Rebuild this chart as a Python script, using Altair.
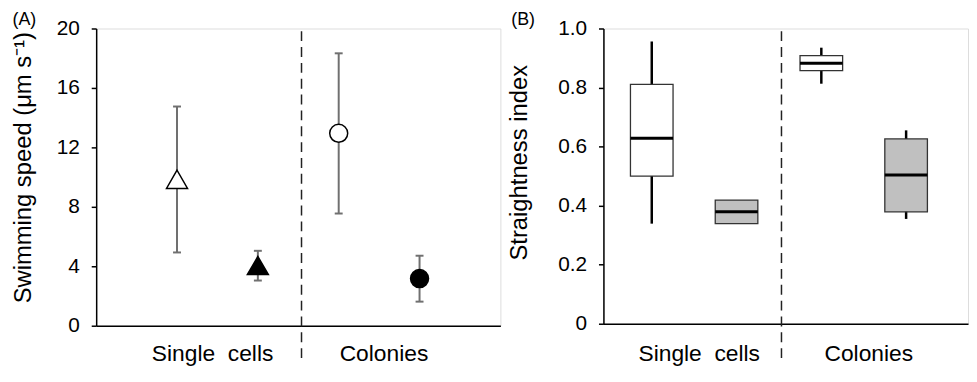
import altair as alt
import pandas as pd

FONT = "Liberation Sans"

# ---------------- Panel A: swimming speed (mean with range) ----------------
speed_pos = [1, 2, 3, 4]
speed_mean = [9.85, 4.05, 12.95, 3.17]
speed_low = [4.93, 3.04, 7.55, 1.62]
speed_high = [14.75, 5.04, 18.33, 4.71]
speed_shape = ["triangle-up", "triangle-up", "circle", "circle"]
speed_fill = ["white", "black", "white", "black"]

# ---------------- Panel B: straightness index (box plots) ----------------
box_pos = [1, 2, 3, 4]
whisk_lo = [0.339, 0.339, 0.813, 0.355]
q1 = [0.500, 0.339, 0.857, 0.379]
median = [0.628, 0.379, 0.882, 0.504]
q3 = [0.811, 0.419, 0.908, 0.626]
whisk_hi = [0.956, 0.419, 0.935, 0.655]
box_fill = ["white", "#c0c0c0", "white", "#c0c0c0"]

group_labels = ["Single\u00a0\u00a0cells", "Colonies"]
group_pos_a = [1.44, 3.56]
group_pos_b = [1.56, 3.56]
divider_a = [2.54]
divider_b = [2.53]
panel_labels = ["(A)", "(B)"]

y_ticks_a = [0, 4, 8, 12, 16, 20]
y_ticks_b = [0, 0.2, 0.4, 0.6, 0.8, 1.0]

dfA = pd.DataFrame({"pos": speed_pos, "mean": speed_mean, "low": speed_low,
                    "high": speed_high, "shape": speed_shape, "fill": speed_fill})
dfB = pd.DataFrame({"pos": box_pos, "lo": whisk_lo, "q1": q1, "med": median,
                    "q3": q3, "hi": whisk_hi, "fill": box_fill})

x_axis = alt.Axis(domain=True, ticks=False, labels=False, title=None, grid=False,
                  domainColor="black", domainWidth=1.5)

DASH_BOTTOM = 337


def y_axis(values, title, title_x, title_y, label_pad, expr):
    return alt.Axis(values=values, title=title, titleX=title_x, titleY=title_y,
                    titleAngle=270, titleAlign="center", titleBaseline="bottom",
                    titleFont=FONT, titleFontSize=24, titleFontWeight="normal",
                    titleColor="black", labelFont=FONT, labelFontSize=21,
                    labelColor="black", labelPadding=label_pad, labelExpr=expr,
                    tickSize=5, tickWidth=1.5, tickColor="black", domainColor="black",
                    domainWidth=1.5, grid=False)


# ---------------- Build panel A ----------------
xsA = alt.Scale(domain=[0, 5], nice=False, zero=False)
ysA = alt.Scale(domain=[0, 20], nice=False)
yaxA = y_axis(y_ticks_a, "Swimming speed (\u03bcm s\u207b\u00b9)", -61.5, 140, 12,
              "format(datum.value, 'd')")
XA = alt.X("pos:Q", scale=xsA, axis=x_axis)

baseA = alt.Chart(dfA)
errA = baseA.mark_rule(color="#707070", strokeWidth=2).encode(
    x=XA, y=alt.Y("low:Q", scale=ysA, axis=yaxA), y2="high:Q")
capLoA = baseA.mark_rule(color="#707070", strokeWidth=2, xOffset=-4, x2Offset=4).encode(
    x=XA, x2="pos:Q", y=alt.Y("low:Q", scale=ysA, axis=yaxA))
capHiA = baseA.mark_rule(color="#707070", strokeWidth=2, xOffset=-4, x2Offset=4).encode(
    x=XA, x2="pos:Q", y=alt.Y("high:Q", scale=ysA, axis=yaxA))
ptsA = baseA.mark_point(filled=True, stroke="black", strokeWidth=1.5, opacity=1).encode(
    x=XA, y=alt.Y("mean:Q", scale=ysA, axis=yaxA),
    shape=alt.Shape("shape:N", scale=None),
    fill=alt.Fill("fill:N", scale=None),
    size=alt.Size("shape:N", scale=alt.Scale(domain=["triangle-up", "circle"], range=[450, 330]),
                  legend=None))

divA = alt.Chart(pd.DataFrame({"x": divider_a})).mark_rule(
    strokeDash=[10, 6], color="#222222", strokeWidth=1.5).encode(
    x=alt.X("x:Q", scale=xsA, axis=x_axis), y=alt.value(2.7), y2=alt.value(DASH_BOTTOM))
labA = alt.Chart(pd.DataFrame({"x": group_pos_a, "t": group_labels})).mark_text(
    font=FONT, fontSize=23, baseline="middle", align="center", color="black").encode(
    x=alt.X("x:Q", scale=xsA, axis=x_axis), y=alt.value(328.7), text="t:N")
panA = alt.Chart(pd.DataFrame({"t": [panel_labels[0]]})).mark_text(
    font=FONT, fontSize=18, baseline="top", align="left", color="black").encode(
    x=alt.value(-84.5), y=alt.value(-18), text="t:N")

chartA = alt.layer(errA, capLoA, capHiA, ptsA, divA, labA, panA).properties(
    width=408, height=300)

# ---------------- Build panel B ----------------
xsB = alt.Scale(domain=[0.43, 4.73], nice=False, zero=False)
ysB = alt.Scale(domain=[0, 1], nice=False)
yaxB = y_axis(y_ticks_b, "Straightness index", -72.5, 135, 12,
              "datum.value == 0 ? '0' : format(datum.value, '.1f')")
XB = alt.X("pos:Q", scale=xsB, axis=x_axis)

baseB = alt.Chart(dfB)
whB = baseB.mark_rule(color="black", strokeWidth=2.5).encode(
    x=XB, y=alt.Y("lo:Q", scale=ysB, axis=yaxB), y2="hi:Q")
boxB = baseB.mark_rect(stroke="#333333", strokeWidth=1.3, xOffset=-21.5, x2Offset=21.5).encode(
    x=XB, x2="pos:Q", y=alt.Y("q1:Q", scale=ysB, axis=yaxB), y2="q3:Q",
    fill=alt.Fill("fill:N", scale=None))
medB = baseB.mark_rule(color="black", strokeWidth=3, xOffset=-21.5, x2Offset=21.5).encode(
    x=XB, x2="pos:Q", y=alt.Y("med:Q", scale=ysB, axis=yaxB))

divB = alt.Chart(pd.DataFrame({"x": divider_b})).mark_rule(
    strokeDash=[10, 6], color="#222222", strokeWidth=1.5).encode(
    x=alt.X("x:Q", scale=xsB, axis=x_axis), y=alt.value(2.7), y2=alt.value(DASH_BOTTOM))
labB = alt.Chart(pd.DataFrame({"x": group_pos_b, "t": group_labels})).mark_text(
    font=FONT, fontSize=23, baseline="middle", align="center", color="black").encode(
    x=alt.X("x:Q", scale=xsB, axis=x_axis), y=alt.value(328.7), text="t:N")
panB = alt.Chart(pd.DataFrame({"t": [panel_labels[1]]})).mark_text(
    font=FONT, fontSize=18, baseline="top", align="left", color="black").encode(
    x=alt.value(-93), y=alt.value(-18), text="t:N")

chartB = alt.layer(whB, boxB, medB, divB, labB, panB).properties(width=368, height=298)

chart = alt.hconcat(chartA, chartB, spacing=6).properties(
    padding={"left": 2, "top": 0, "right": 0, "bottom": 0}
).configure_view(stroke=None).configure(font=FONT)

chart.save("out.html", embed_options={"renderer": "svg", "actions": False})
